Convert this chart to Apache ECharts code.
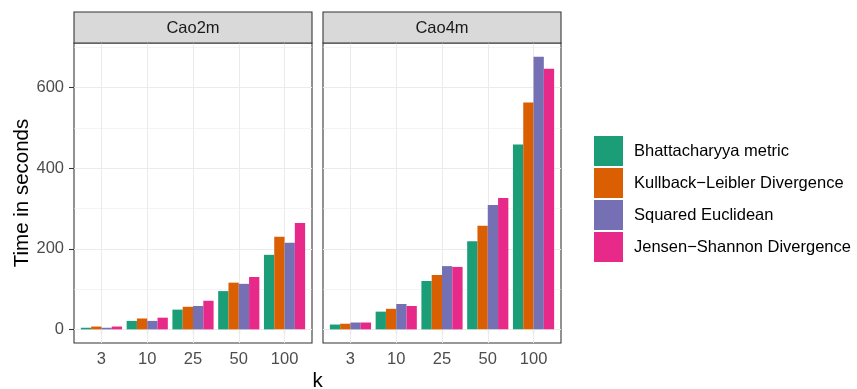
<!DOCTYPE html>
<html>
<head>
<meta charset="utf-8">
<script src="https://cdn.jsdelivr.net/npm/echarts@6/dist/echarts.min.js"></script>
<style>html,body{margin:0;padding:0;background:#fff}#c{width:857px;height:389px}</style>
</head>
<body>
<div id="c"></div>
<script>
// ---- data ----
const categories = ['3', '10', '25', '50', '100'];
const methods = ['Bhattacharyya metric', 'Kullback\u2212Leibler Divergence', 'Squared Euclidean', 'Jensen\u2212Shannon Divergence'];
const panels = ['Cao2m', 'Cao4m'];
// Cao2m
const bhattacharyya2m = [4, 21, 49, 95, 185];
const kullback2m = [7, 27, 56, 116, 230];
const euclidean2m = [4, 21, 58, 113, 215];
const jensen2m = [7, 29, 71, 130, 264];
// Cao4m
const bhattacharyya4m = [12, 44, 120, 219, 459];
const kullback4m = [14, 51, 135, 257, 563];
const euclidean4m = [17, 63, 157, 309, 677];
const jensen4m = [17, 58, 155, 326, 647];
const yTicks = [0, 200, 400, 600];
const yMinorTicks = [100, 300, 500, 700];

// ---- build ----
const colors = ['#1B9E77', '#D95F02', '#7570B3', '#E7298A'];
const seriesData = [
  [bhattacharyya2m, kullback2m, euclidean2m, jensen2m],
  [bhattacharyya4m, kullback4m, euclidean4m, jensen4m]
];
const FONT = '"Liberation Sans", Arial, sans-serif';
const allVals = seriesData.flat(2);
const dMax = Math.max(...allVals), dMin = 0;
const pad = (dMax - dMin) * 0.05;
const yMin = dMin - pad, yMax = dMax + pad;
const positions = categories.map((c, i) => i + 1);
const xMin = 1 - 0.6, xMax = categories.length + 0.6;

const gridLeft = [74, 323], gridTop = 43, gridW = 238, gridH = 300;

const grids = panels.map((p, i) => ({
  left: gridLeft[i], top: gridTop, width: gridW, height: gridH,
  show: true, borderColor: '#333333', borderWidth: 1.07, backgroundColor: '#ffffff'
}));

const xAxes = panels.map((p, i) => ({
  type: 'value', gridIndex: i, min: xMin, max: xMax,
  axisLine: { show: false },
  splitLine: { show: false },
  axisTick: { show: true, customValues: positions, length: 5, lineStyle: { color: '#333333', width: 1.07 } },
  axisLabel: { show: true, customValues: positions, formatter: v => categories[Math.round(v) - 1],
    fontSize: 16.5, color: '#4D4D4D', fontFamily: FONT, margin: 8 }
}));

const yAxes = panels.map((p, i) => ({
  type: 'value', gridIndex: i, min: yMin, max: yMax,
  axisLine: { show: false },
  splitLine: { show: false },
  axisTick: { show: i === 0, customValues: yTicks, length: 5, lineStyle: { color: '#333333', width: 1.07 } },
  axisLabel: { show: i === 0, customValues: yTicks, fontSize: 16.5, color: '#4D4D4D', fontFamily: FONT, margin: 10 }
}));

const series = [];
panels.forEach((p, gi) => {
  // gridlines
  const ml = [];
  yTicks.forEach(v => ml.push({ yAxis: v, lineStyle: { color: '#EBEBEB', width: 1.07, type: 'solid' } }));
  yMinorTicks.forEach(v => ml.push({ yAxis: v, lineStyle: { color: '#EBEBEB', width: 0.55, type: 'solid' } }));
  positions.forEach(v => ml.push({ xAxis: v, lineStyle: { color: '#EBEBEB', width: 1.07, type: 'solid' } }));
  series.push({
    type: 'line', xAxisIndex: gi, yAxisIndex: gi, data: [], silent: true, z: 1,
    markLine: { z: 1, silent: true, symbol: ['none', 'none'], label: { show: false }, animation: false, data: ml }
  });
  methods.forEach((m, si) => {
    series.push({
      name: m, type: 'bar', xAxisIndex: gi, yAxisIndex: gi, z: 2,
      barCategoryGap: '10%', barGap: '0%',
      itemStyle: { color: colors[si] },
      data: seriesData[gi][si].map((v, k) => [positions[k], v])
    });
  });
});

const graphics = [];
panels.forEach((p, i) => {
  graphics.push({ type: 'rect', shape: { x: gridLeft[i], y: 12, width: gridW, height: 31 },
    style: { fill: '#D9D9D9', stroke: '#333333', lineWidth: 1.07 }, z: 10 });
  graphics.push({ type: 'text', x: gridLeft[i] + gridW / 2, y: 28, z: 11,
    style: { text: p, fill: '#1A1A1A', font: '16.5px ' + FONT, textAlign: 'center', textVerticalAlign: 'middle' } });
});
graphics.push({ type: 'text', x: 22, y: gridTop + gridH / 2, rotation: Math.PI / 2, z: 11,
  style: { text: 'Time in seconds', fill: '#000000', font: '20.5px ' + FONT, textAlign: 'center', textVerticalAlign: 'middle' } });
graphics.push({ type: 'text', x: (gridLeft[0] + gridLeft[1] + gridW) / 2, y: 381, z: 11,
  style: { text: 'k', fill: '#000000', font: '20.5px ' + FONT, textAlign: 'center', textVerticalAlign: 'middle' } });

const option = {
  animation: false,
  color: colors,
  grid: grids,
  xAxis: xAxes,
  yAxis: yAxes,
  legend: {
    data: methods, orient: 'vertical', left: 594, top: 136, padding: 0,
    itemWidth: 29, itemHeight: 30, itemGap: 2, icon: 'rect',
    textStyle: { fontSize: 16.5, color: '#000000', fontFamily: FONT, padding: [0, 0, 0, 6] }
  },
  graphic: graphics,
  series: series
};
const chart = echarts.init(document.getElementById('c'), null, { renderer: 'canvas' });
chart.setOption(option);
</script>
</body>
</html>
